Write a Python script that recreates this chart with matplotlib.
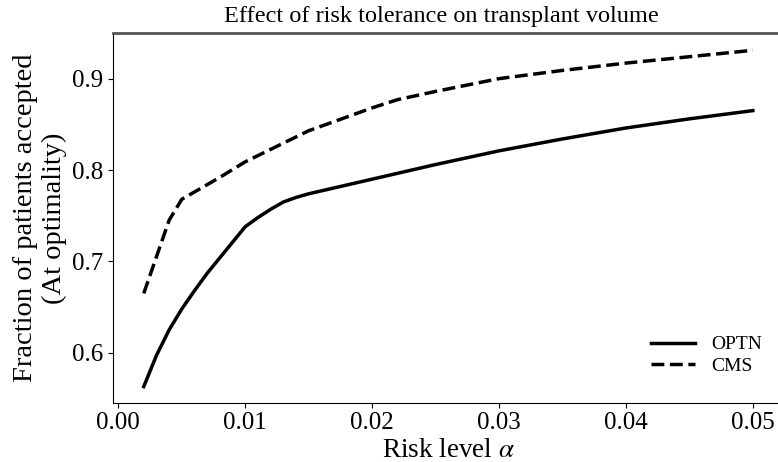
import matplotlib
matplotlib.use("Agg")
import matplotlib.pyplot as plt

plt.rcParams['font.family'] = ['Liberation Serif', 'DejaVu Serif']
plt.rcParams['mathtext.fontset'] = 'stix'

alpha_optn = [0.002, 0.003, 0.004, 0.005, 0.006, 0.007, 0.008, 0.009, 0.010,
              0.011, 0.012, 0.013, 0.014, 0.015, 0.020, 0.025, 0.030, 0.035,
              0.040, 0.045, 0.050]
optn = [0.563, 0.597, 0.625, 0.648, 0.668, 0.687, 0.704, 0.721, 0.738,
        0.748, 0.757, 0.765, 0.770, 0.774, 0.790, 0.806, 0.821, 0.834,
        0.846, 0.856, 0.865]

alpha_cms = [0.002, 0.003, 0.004, 0.005, 0.006, 0.008, 0.010, 0.015, 0.020,
             0.022, 0.025, 0.030, 0.035, 0.040, 0.045, 0.050]
cms = [0.665, 0.705, 0.745, 0.768, 0.776, 0.792, 0.809, 0.843, 0.868,
       0.877, 0.886, 0.900, 0.909, 0.917, 0.924, 0.931]

xticks = [0.0, 0.01, 0.02, 0.03, 0.04, 0.05]
xticklabels = ['0.00', '0.01', '0.02', '0.03', '0.04', '0.05']
yticks = [0.6, 0.7, 0.8, 0.9]

title = "Effect of risk tolerance on transplant volume"
xlabel = r"Risk level $\alpha$"
ylabel = "Fraction of patients accepted\n(At optimality)"

fig = plt.figure(figsize=(7.78, 4.62), dpi=100)
ax = fig.add_axes([0.1456, 0.1284, 0.8612, 0.7991])
ax.plot(alpha_optn, optn, color='black', lw=2.5, label='OPTN')
ax.plot(alpha_cms, cms, color='black', lw=2.5, ls='--', label='CMS')

ax.set_xlim(-0.0004, 0.0524)
ax.set_ylim(0.5454, 0.9494)
ax.set_xticks(xticks)
ax.set_xticklabels(xticklabels)
ax.set_yticks(yticks)
ax.tick_params(labelsize=18)
ax.set_xlabel(xlabel, fontsize=19.5, labelpad=2.5)
ax.set_ylabel(ylabel, fontsize=20.5)
ax.set_title(title, fontsize=17.5, x=0.49, pad=8.5)
ax.spines['top'].set_color('#555555')
ax.spines['top'].set_linewidth(2)
ax.legend(loc='lower right', bbox_to_anchor=(0.994, 0.028), frameon=False,
          fontsize=14, labelspacing=0.2, handlelength=2.3)

fig.savefig('out.png', dpi=100)
